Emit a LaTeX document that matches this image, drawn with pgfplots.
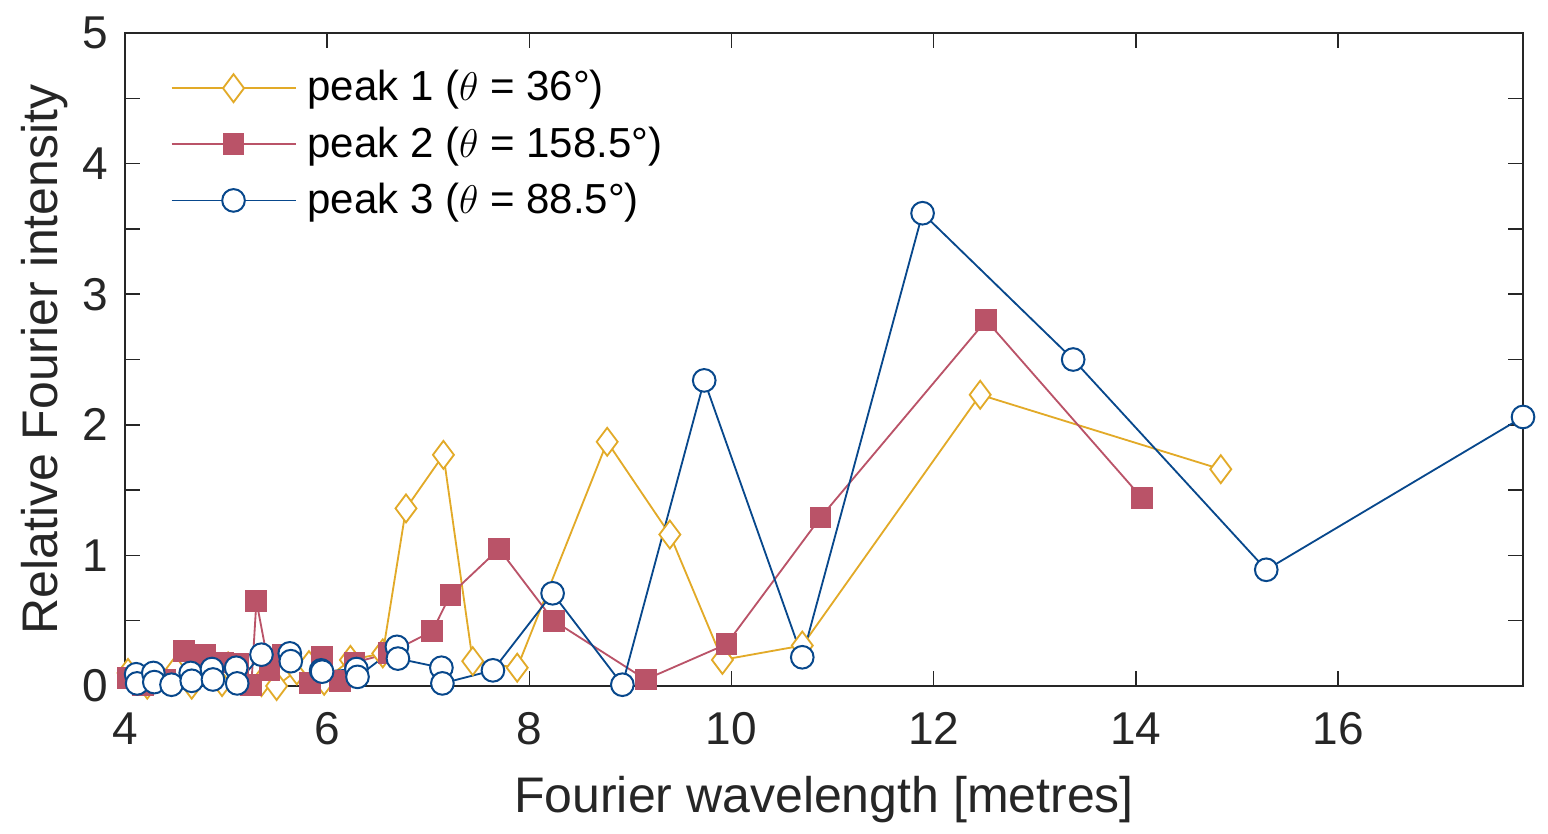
\documentclass[border=0pt]{standalone}
\usepackage{pgfplots}
\pgfplotsset{compat=1.18}
\usepackage{fontspec}
\setmainfont{Liberation Sans}
\definecolor{cy}{RGB}{226,170,40}
\definecolor{cr}{RGB}{186,83,104}
\definecolor{cb}{RGB}{8,72,140}
\definecolor{axc}{RGB}{38,38,38}
\begin{document}
\begin{tikzpicture}
\begin{axis}[
  scale only axis, width=419.4pt, height=195.9pt,
  xmin=4, xmax=17.83, ymin=0, ymax=5,
  xtick={4,6,8,10,12,14,16},
  ytick={0,1,2,3,4,5},
  minor ytick={0.5,1.5,2.5,3.5,4.5},
  tick align=inside,
  major tick length=4.5pt, minor tick length=4.5pt,
  axis line style={axc, line width=0.45pt},
  every tick/.style={axc, line width=0.45pt},
  every minor tick/.style={axc, line width=0.45pt},
  /pgf/number format/assume math mode=true,
  tick label style={font=\fontsize{13.8}{16}\selectfont, text=axc},
  xticklabel style={yshift=-4.5pt},
  yticklabel style={xshift=-1.5pt},
  clip=false,
  every axis x label/.style={at={(axis description cs:0.5,0)}, anchor=center, yshift=-34pt},
  every axis y label/.style={at={(axis description cs:0,0.5)}, anchor=center, xshift=-24pt, rotate=90},
  label style={font=\fontsize{15}{18}\selectfont, text=axc},
  xlabel={Fourier wavelength [metres]},
  ylabel={Relative Fourier intensity},
  legend style={at={(rel axis cs:0.025,0.964)}, anchor=north west, draw=none, fill=none,
    font=\fontsize{12.6}{15}\selectfont, row sep=2.2pt, column sep=1.3pt, cells={anchor=west}},
  legend image code/.code={\draw[mark repeat=2,mark phase=2] plot coordinates {(0pt,0pt) (18.6pt,0pt) (37.2pt,0pt)};},
  legend cell align=left,
]
\path (rel axis cs:0,0) ++(-37.5pt,-43.2pt) (rel axis cs:1,1) ++(7.5pt,9.9pt);
\addplot[cy, line width=0.55pt, mark=diamond*, mark size=4.2pt, mark options={fill=white, line width=0.55pt}] coordinates {
(4.03,0.10) (4.22,0.01) (4.30,0.06) (4.50,0.12) (4.66,0.01) (4.96,0.03) (5.02,0.15)
(5.35,0.03) (5.50,0.00) (5.70,0.12) (5.82,0.16) (5.97,0.04) (6.23,0.20) (6.55,0.25)
(6.78,1.36) (7.15,1.77) (7.44,0.19) (7.88,0.14) (8.77,1.87) (9.39,1.16) (9.91,0.20)
(10.70,0.31) (12.46,2.23) (14.84,1.66)};
\addlegendentry{peak 1 ($\theta$ = 36°)}
\addplot[cr, line width=0.55pt, mark=square*, mark size=3.0pt, mark options={fill=cr, draw=cr}] coordinates {
(4.03,0.06) (4.18,0.01) (4.40,0.05) (4.58,0.27) (4.79,0.24) (4.97,0.18) (5.12,0.17)
(5.25,0.01) (5.30,0.65) (5.43,0.12) (5.56,0.24) (5.83,0.02) (5.95,0.22) (6.13,0.04)
(6.27,0.18) (6.61,0.25) (7.04,0.42) (7.22,0.70) (7.70,1.05) (8.24,0.50) (9.15,0.05)
(9.95,0.32) (10.88,1.29) (12.52,2.80) (14.06,1.44)};
\addlegendentry{peak 2 ($\theta$ = 158.5°)}
\addplot[cb, line width=0.55pt, mark=*, mark size=3.4pt, mark options={fill=white, line width=0.6pt}] coordinates {
(4.11,0.09) (4.12,0.02) (4.28,0.10) (4.29,0.03) (4.46,0.01) (4.65,0.10) (4.66,0.04)
(4.86,0.13) (4.87,0.05) (5.10,0.14) (5.11,0.02) (5.35,0.24) (5.63,0.25) (5.64,0.19)
(5.94,0.12) (5.95,0.11) (6.29,0.13) (6.30,0.07) (6.69,0.30) (6.70,0.21) (7.13,0.14)
(7.14,0.02) (7.64,0.12) (8.23,0.71) (8.92,0.01) (9.73,2.34) (10.70,0.22) (11.89,3.62)
(13.38,2.50) (15.29,0.89) (17.83,2.06)};
\addlegendentry{peak 3 ($\theta$ = 88.5°)}
\end{axis}
\end{tikzpicture}
\end{document}
